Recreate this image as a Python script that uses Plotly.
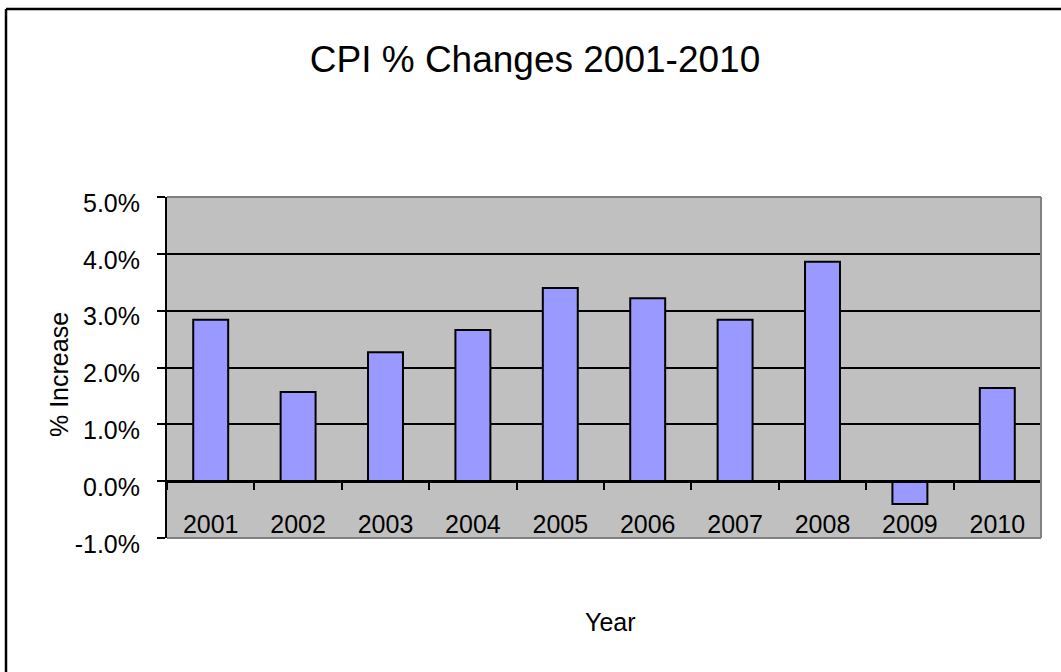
import plotly.graph_objects as go

# Annual CPI change, 2001-2010 (fractions, shown as percent)
years = ["2001", "2002", "2003", "2004", "2005", "2006", "2007", "2008", "2009", "2010"]
cpi_change = [0.0284, 0.0157, 0.0227, 0.0266, 0.0340, 0.0322, 0.0284, 0.0386, -0.0040, 0.0164]

y_ticks = [-0.01, 0.0, 0.01, 0.02, 0.03, 0.04, 0.05]
y_tick_text = [f"{v * 100:.1f}%" for v in y_ticks]  # plain hyphen for negatives

W, H = 1061, 672
L, R, T, B = 167, 20, 197, 134
PW, PH = W - L - R, H - T - B

FONT = "Liberation Sans, Arial, sans-serif"


def px_x(px):
    return (px - L) / PW


def px_y(py):
    return (H - B - py) / PH


fig = go.Figure()
fig.add_trace(go.Bar(
    x=years,
    y=cpi_change,
    width=0.4,
    marker=dict(color="#9999FF", line=dict(color="black", width=2)),
    hoverinfo="x+y",
))

y_lo, y_hi = y_ticks[0], y_ticks[-1]
zero_pos = (0 - y_lo) / (y_hi - y_lo)

fig.update_layout(
    width=W, height=H,
    margin=dict(l=L, r=R, t=T, b=B, pad=0),
    paper_bgcolor="white",
    plot_bgcolor="#C0C0C0",
    showlegend=False,
    bargap=0.6,
    font=dict(family=FONT, size=25, color="black"),
    title=dict(
        text="CPI % Changes 2001-2010",
        font=dict(family=FONT, size=37, color="black"),
        x=535 / W, xanchor="center",
        y=1 - 59 / H, yref="container", yanchor="middle",
    ),
    xaxis=dict(
        type="category",
        anchor="free", position=zero_pos,
        showline=True, linecolor="black", linewidth=2.5,
        ticks="outside", tickson="boundaries", ticklen=7, tickwidth=2, tickcolor="black",
        ticklabelstandoff=20,
        showgrid=False, zeroline=False,
        tickfont=dict(family=FONT, size=25, color="black"),
    ),
    yaxis=dict(
        range=[y_lo, y_hi],
        tickvals=y_ticks, ticktext=y_tick_text,
        showline=True, linecolor="black", linewidth=2,
        ticks="outside", ticklen=8, tickwidth=2, tickcolor="black",
        ticklabelstandoff=12, ticklabelshift=6,
        showgrid=True, gridcolor="black", gridwidth=2,
        zeroline=False,
        tickfont=dict(family=FONT, size=25, color="black"),
    ),
    annotations=[
        dict(text="% Increase", x=px_x(59), y=px_y(375), xref="paper", yref="paper",
             textangle=-90, showarrow=False, xanchor="center", yanchor="middle",
             font=dict(family=FONT, size=25, color="black")),
        dict(text="Year", x=px_x(610), y=px_y(622), xref="paper", yref="paper",
             showarrow=False, xanchor="center", yanchor="middle",
             font=dict(family=FONT, size=25, color="black")),
    ],
    shapes=[
        # plot-area frame (top, right, bottom)
        dict(type="line", xref="x domain", yref="y domain", x0=0, x1=1, y0=1, y1=1,
             line=dict(color="#808080", width=2), layer="above"),
        dict(type="line", xref="x domain", yref="y domain", x0=1, x1=1, y0=0, y1=1,
             line=dict(color="#808080", width=2), layer="above"),
        dict(type="line", xref="x domain", yref="y domain", x0=0, x1=1, y0=0, y1=0,
             line=dict(color="#808080", width=2), layer="above"),
        # outer chart frame (left and top edges)
        dict(type="line", xref="paper", yref="paper", x0=px_x(6), x1=px_x(6),
             y0=px_y(9), y1=px_y(H + 5), line=dict(color="black", width=2.5)),
        dict(type="line", xref="paper", yref="paper", x0=px_x(6), x1=px_x(W + 5),
             y0=px_y(9), y1=px_y(9), line=dict(color="black", width=2.5)),
    ],
)

fig.write_html("out.html")
